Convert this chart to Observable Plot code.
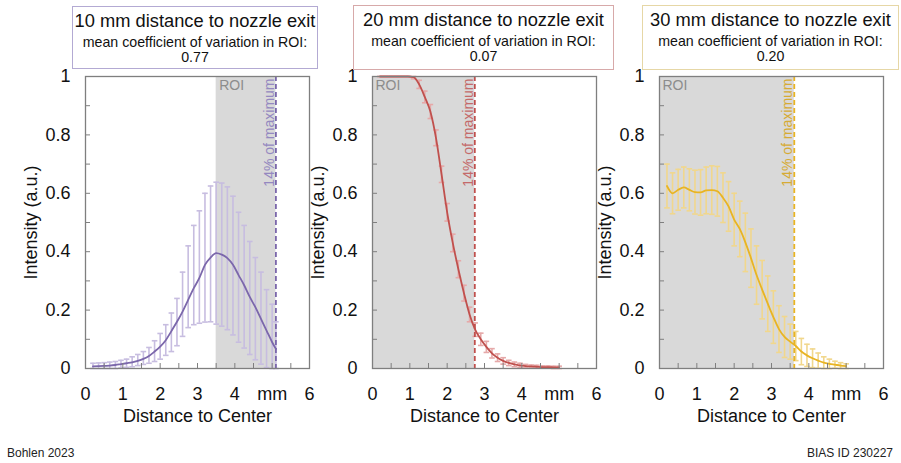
<!DOCTYPE html>
<html><head><meta charset="utf-8">
<script src="https://cdn.jsdelivr.net/npm/d3@7"></script>
<script src="https://cdn.jsdelivr.net/npm/@observablehq/plot@0.6"></script>
<style>
body{margin:0;background:#fff;font-family:"Liberation Sans",Arial,sans-serif;}
#fig{position:relative;width:901px;height:463px;overflow:hidden;background:#fff;color:#111;}
.box{position:absolute;box-sizing:border-box;border:1.5px solid;text-align:center;background:#fff;color:#111;}
.box .t{font-size:18.3px;line-height:20px;margin-top:4px;white-space:nowrap}
.box .s{font-size:14.2px;line-height:15px;margin-top:4px;white-space:nowrap}
.panel{position:absolute;top:0}
.foot{position:absolute;font-size:12px;line-height:14px;color:#222;top:446px;white-space:nowrap}
</style></head><body><div id="fig"></div>
<script>
// ---- data ----
const titles = ["10 mm distance to nozzle exit", "20 mm distance to nozzle exit", "30 mm distance to nozzle exit"];
const cvValues = ["0.77", "0.07", "0.20"];
const roiStart = [3.5, 0, 0];
const roiEnd = [5.1, 2.74, 3.61];   // 14% of maximum

const x10 = [0.2,0.35,0.5,0.65,0.8,0.95,1.1,1.25,1.4,1.55,1.7,1.85,2.0,2.15,2.3,2.45,2.6,2.75,2.9,3.05,3.2,3.35,3.5,3.65,3.8,3.95,4.1,4.25,4.4,4.55,4.7,4.85,5.0,5.1];
const mean10 = [.007,.008,.009,.010,.012,.015,.018,.021,.026,.033,.043,.058,.075,.097,.128,.16,.195,.235,.275,.31,.355,.38,.395,.39,.378,.355,.32,.285,.245,.21,.17,.13,.09,.067];
const low10 = [0,0,0,0,0,.002,.004,.006,.010,.014,.018,.024,.032,.045,.058,.078,.11,.14,.15,.155,.159,.16,.152,.145,.133,.115,.09,.07,.048,.03,.015,.003,0,0];
const high10 = [.018,.019,.020,.022,.024,.028,.032,.040,.048,.058,.072,.095,.12,.15,.19,.24,.33,.42,.49,.54,.60,.625,.638,.635,.622,.59,.535,.49,.435,.38,.33,.27,.22,.16];

const x20 = [0.2,0.35,0.5,0.65,0.8,0.95,1.1,1.25,1.4,1.55,1.7,1.85,2.0,2.15,2.3,2.45,2.6,2.75,2.9,3.05,3.2,3.35,3.5,3.65,3.8,3.95,4.1,4.25,4.4,4.55,4.7,4.85,5.0];
const mean20 = [1,1,1,1,1,1,.998,.973,.93,.88,.79,.665,.535,.43,.34,.258,.185,.133,.10,.074,.052,.037,.026,.019,.014,.011,.008,.007,.006,.005,.005,.004,.004];
const sd20 = [0,0,0,0,0,0,.006,.014,.02,.024,.027,.028,.03,.03,.029,.027,.025,.023,.021,.019,.016,.013,.011,.009,.008,.007,.006,.005,.005,.004,.004,.004,.004];

const x30 = [0.2,0.35,0.5,0.65,0.8,0.95,1.1,1.25,1.4,1.55,1.7,1.85,2.0,2.15,2.3,2.45,2.6,2.75,2.9,3.05,3.2,3.35,3.5,3.65,3.8,3.95,4.1,4.25,4.4,4.55,4.7,4.85,5.0];
const mean30 = [.625,.60,.612,.62,.612,.604,.603,.61,.611,.607,.585,.555,.51,.478,.432,.378,.32,.27,.222,.176,.135,.108,.092,.077,.058,.045,.035,.027,.02,.016,.013,.01,.008];
const sd30 = [.075,.07,.07,.07,.072,.075,.078,.08,.083,.085,.085,.085,.09,.095,.1,.1,.1,.1,.095,.09,.08,.07,.06,.05,.045,.038,.032,.026,.02,.016,.012,.01,.008];

const yTicks = [0,0.2,0.4,0.6,0.8,1];
const yMinor = [0.1,0.2,0.3,0.4,0.5,0.6,0.7,0.8,0.9];
const xTicks = [0,1,2,3,4,5,6];
const xTickLabels = ["0","1","2","3","4","mm","6"];
const xMinor = [0.5,1,1.5,2,2.5,3,3.5,4,4.5,5,5.5];

// ---- styles ----
const lineColors = ["#7b67ab", "#c0504d", "#e8b423"];
const errColors = ["#c7bde0", "#e6a9a9", "#f1d78c"];
const labelColors = ["#9488c0", "#c46a6a", "#d6ab35"];
const boxColors = ["#b3aad3", "#d7a9a9", "#e6d7a6"];
const boxPos = [[72,6,246,63],[353,5,261,65],[642,5,257,65]];
const frameLeft = [85, 372, 659];
const frameColor = "#7f7f7f";

const panels = [
  x10.map((x,i)=>({x, m: mean10[i], lo: low10[i], hi: high10[i]})),
  x20.map((x,i)=>({x, m: mean20[i], lo: Math.max(0, mean20[i]-sd20[i]), hi: Math.min(1, mean20[i]+sd20[i])})),
  x30.map((x,i)=>({x, m: mean30[i], lo: Math.max(0, mean30[i]-sd30[i]), hi: Math.min(1, mean30[i]+sd30[i])}))
];

const fig = document.getElementById("fig");
const capHalf = 0.075;

panels.forEach((data, k) => {
  const plot = Plot.plot({
    width: 324, height: 430,
    marginLeft: 85, marginRight: 15, marginTop: 76, marginBottom: 62,
    x: {domain: [0, 6]},
    y: {domain: [0, 1]},
    style: {background: "transparent", overflow: "visible", fontFamily: '"Liberation Sans", Arial, sans-serif', color: "#111"},
    marks: [
      Plot.rect([{a: roiStart[k], b: roiEnd[k]}], {x1: "a", x2: "b", fill: "#d9d9d9"}),
      Plot.ruleX(data, {x: "x", y1: "lo", y2: "hi", stroke: errColors[k], strokeWidth: 1.6}),
      Plot.link(data, {x1: d => d.x - capHalf, x2: d => d.x + capHalf, y1: "hi", y2: "hi", stroke: errColors[k], strokeWidth: 1.6}),
      Plot.link(data, {x1: d => d.x - capHalf, x2: d => d.x + capHalf, y1: "lo", y2: "lo", stroke: errColors[k], strokeWidth: 1.6}),
      Plot.line(data, {x: "x", y: "m", stroke: lineColors[k], strokeWidth: 1.8, curve: "monotone-x"}),
      Plot.ruleX([roiEnd[k]], {stroke: lineColors[k], strokeWidth: 1.8, strokeDasharray: "5,3"}),
      Plot.text(["ROI"], {x: roiStart[k], frameAnchor: "top", text: d => d, textAnchor: "start", lineAnchor: "top", dx: 3, dy: 4, fill: "#8c8c8c", fontSize: 14}),
      Plot.text(["14% of maximum"], {x: roiEnd[k], frameAnchor: "top", text: d => d, rotate: -90, textAnchor: "end", lineAnchor: "bottom", dx: -2, dy: 2, fill: labelColors[k], fontSize: 14}),
      Plot.tickY(yMinor, {y: d => d, insetRight: 219, stroke: frameColor}),
      Plot.tickX(xMinor, {x: d => d, insetTop: 287, stroke: frameColor}),
      Plot.frame({stroke: frameColor, strokeWidth: 1.3}),
      Plot.axisY(yTicks, {tickSize: 0, tickPadding: 15, tickFormat: d3.format("~g"), fontSize: 18,
        label: "Intensity (a.u.)", labelAnchor: "center", labelOffset: 61, labelArrow: false}),
      Plot.axisX(xTicks, {tickSize: 0, tickPadding: 19, tickFormat: (d) => xTickLabels[xTicks.indexOf(d)], fontSize: 18,
        label: "Distance to Center", labelAnchor: "center", labelOffset: 53, labelArrow: false})
    ]
  });
  const wrap = document.createElement("div");
  wrap.className = "panel";
  wrap.style.left = (frameLeft[k] - 85) + "px";
  wrap.appendChild(plot);
  fig.appendChild(wrap);
});

titles.forEach((t, k) => {
  const b = document.createElement("div");
  b.className = "box";
  const [l, tp, w, h] = boxPos[k];
  Object.assign(b.style, {left: l + "px", top: tp + "px", width: w + "px", height: h + "px", borderColor: boxColors[k]});
  b.innerHTML = `<div class="t">${t}</div><div class="s">mean coefficient of variation in ROI:<br>${cvValues[k]}</div>`;
  fig.appendChild(b);
});

const f1 = document.createElement("div");
f1.className = "foot"; f1.style.left = "7px"; f1.textContent = "Bohlen 2023";
const f2 = document.createElement("div");
f2.className = "foot"; f2.style.right = "8px"; f2.textContent = "BIAS ID 230227";
fig.appendChild(f1); fig.appendChild(f2);
</script></body></html>
